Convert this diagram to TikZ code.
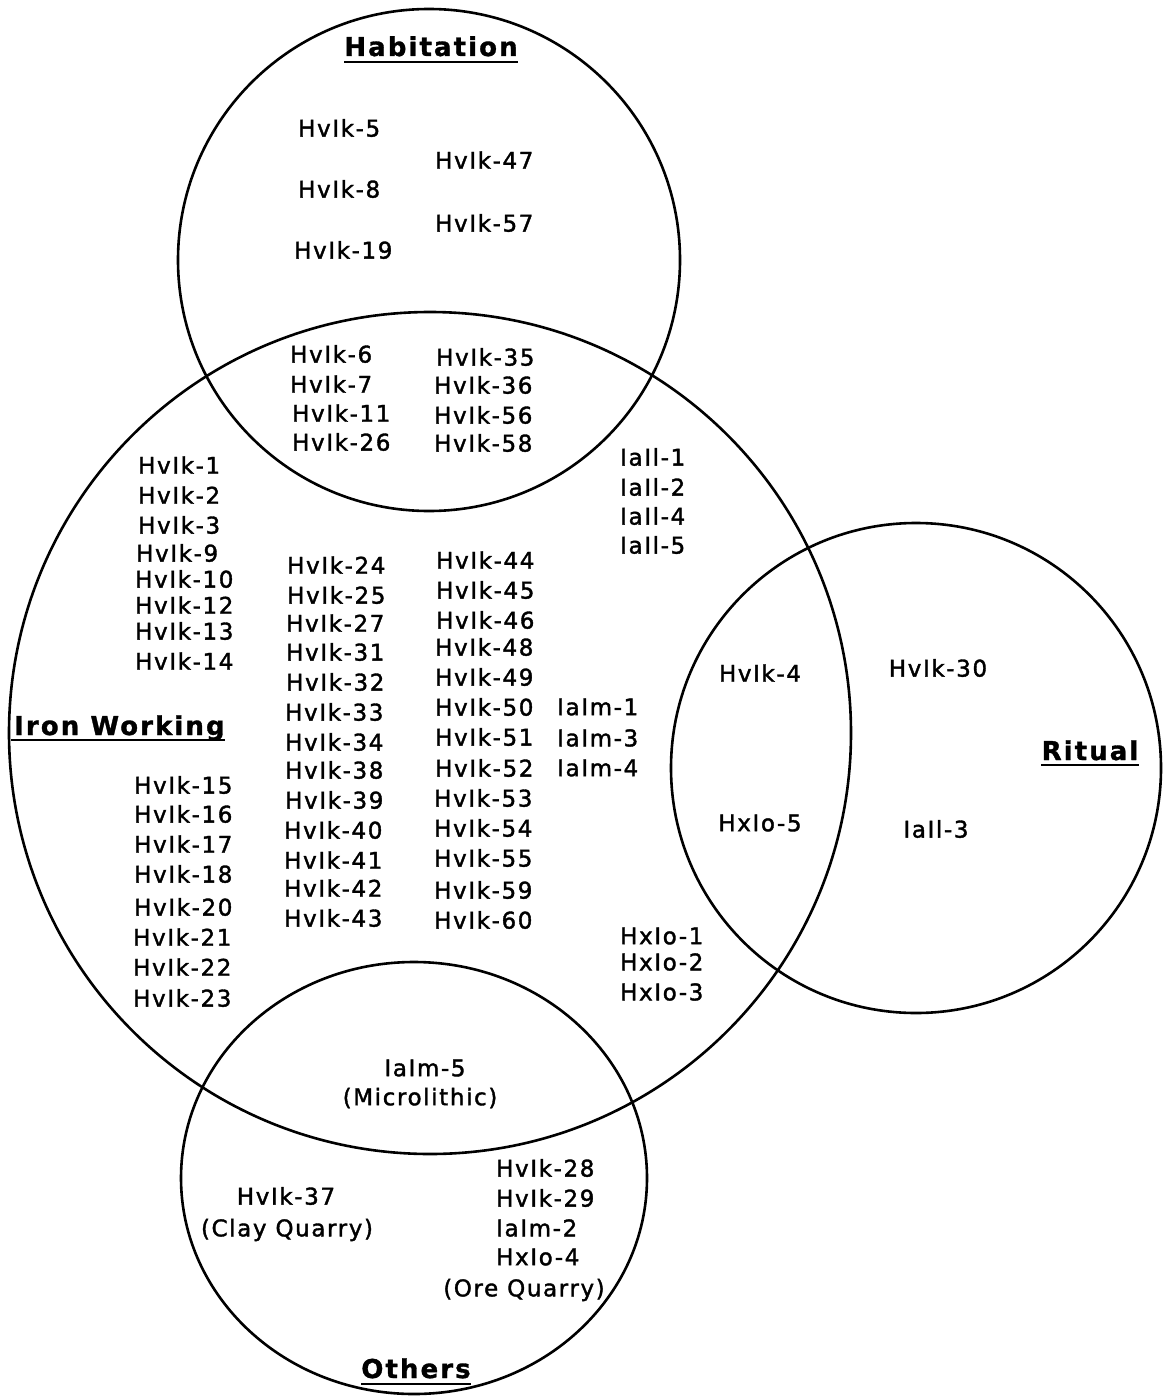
\documentclass[tikz,border=0pt]{standalone}
\usetikzlibrary{shapes.geometric}
\usepackage{fontspec}
\setmainfont{DejaVu Sans}
\newfontfamily\lblf[LetterSpace=7,FakeBold=1.6]{DejaVu Sans}
\newfontfamily\ttlf[LetterSpace=8,BoldFeatures={FakeBold=1.2}]{DejaVu Sans}
\begin{document}
\begin{tikzpicture}[x=1pt,y=-1pt,
  set/.style={ellipse,draw=black,line width=2.6pt,inner sep=0pt,outer sep=0pt},
  lbl/.style={font=\lblf\fontsize{23}{26}\selectfont,inner sep=0pt,anchor=west},
  clbl/.style={font=\lblf\fontsize{23}{26}\selectfont,inner sep=0pt,anchor=center},
  ttl/.style={font=\ttlf\bfseries\fontsize{26}{30}\selectfont,inner sep=0pt,anchor=base},
  ul/.style={line width=2.8pt}]
\useasboundingbox (0,0) rectangle (1170,1397);
\fill[white] (0,0) rectangle (1170,1397);

% sets
\node[set,minimum width=502pt,minimum height=502pt] (hab) at (429,260) {};
\node[set,minimum width=842pt,minimum height=842pt] (iron) at (430,733) {};
\node[set,minimum width=490pt,minimum height=490pt] (rit) at (916,768) {};
\node[set,minimum width=466pt,minimum height=432pt] (oth) at (414,1178) {};

% titles
\node[ttl] (thab) at (431,56) {Habitation};
\draw[ul] ([yshift=-6pt]thab.base west) -- ([yshift=-6pt]thab.base east);
\node[ttl,anchor=base west] (tiron) at (14,735) {Iron Working};
\draw[ul] ([yshift=-5pt,xshift=-3pt]tiron.base west) -- ([yshift=-5pt]tiron.base east);
\node[ttl] (trit) at (1090,760) {Ritual};
\draw[ul] ([yshift=-5pt]trit.base west) -- ([yshift=-5pt]trit.base east);
\node[ttl] (toth) at (416,1378) {Others};
\draw[ul] ([yshift=-6pt]toth.base west) -- ([yshift=-6pt]toth.base east);

% Habitation only
\node[lbl] (h5)  at (298,128) {HvIk-5};
\node[lbl] (h8)  at (298,189) {HvIk-8};
\node[lbl] (h19) at (294,250) {HvIk-19};
\node[lbl] (h47) at (435,160) {HvIk-47};
\node[lbl] (h57) at (435,223) {HvIk-57};

% Habitation + Iron Working
\node[lbl] (h6)  at (290,354) {HvIk-6};
\node[lbl] (h7)  at (290,384) {HvIk-7};
\node[lbl] (h11) at (292,413) {HvIk-11};
\node[lbl] (h26) at (292,442) {HvIk-26};
\node[lbl] (h35) at (436,357) {HvIk-35};
\node[lbl] (h36) at (434,385) {HvIk-36};
\node[lbl] (h56) at (434,415) {HvIk-56};
\node[lbl] (h58) at (434,443) {HvIk-58};

% Iron Working, left column
\node[lbl] (h1)  at (138,465) {HvIk-1};
\node[lbl] (h2)  at (138,495) {HvIk-2};
\node[lbl] (h3)  at (138,525) {HvIk-3};
\node[lbl] (h9)  at (136,553) {HvIk-9};
\node[lbl] (h10) at (135,579) {HvIk-10};
\node[lbl] (h12) at (135,605) {HvIk-12};
\node[lbl] (h13) at (135,631) {HvIk-13};
\node[lbl] (h14) at (135,661) {HvIk-14};
\node[lbl] (h15) at (134,785) {HvIk-15};
\node[lbl] (h16) at (134,814) {HvIk-16};
\node[lbl] (h17) at (134,844) {HvIk-17};
\node[lbl] (h18) at (134,874) {HvIk-18};
\node[lbl] (h20) at (134,907) {HvIk-20};
\node[lbl] (h21) at (133,937) {HvIk-21};
\node[lbl] (h22) at (133,967) {HvIk-22};
\node[lbl] (h23) at (133,998) {HvIk-23};

% Iron Working, middle-left column
\node[lbl] (h24) at (287,565) {HvIk-24};
\node[lbl] (h25) at (287,595) {HvIk-25};
\node[lbl] (h27) at (286,623) {HvIk-27};
\node[lbl] (h31) at (286,652) {HvIk-31};
\node[lbl] (h32) at (286,682) {HvIk-32};
\node[lbl] (h33) at (285,712) {HvIk-33};
\node[lbl] (h34) at (285,742) {HvIk-34};
\node[lbl] (h38) at (285,770) {HvIk-38};
\node[lbl] (h39) at (285,800) {HvIk-39};
\node[lbl] (h40) at (284,830) {HvIk-40};
\node[lbl] (h41) at (284,860) {HvIk-41};
\node[lbl] (h42) at (284,888) {HvIk-42};
\node[lbl] (h43) at (284,918) {HvIk-43};

% Iron Working, middle-right column
\node[lbl] (h44) at (436,560) {HvIk-44};
\node[lbl] (h45) at (436,590) {HvIk-45};
\node[lbl] (h46) at (436,620) {HvIk-46};
\node[lbl] (h48) at (435,647) {HvIk-48};
\node[lbl] (h49) at (435,677) {HvIk-49};
\node[lbl] (h50) at (435,707) {HvIk-50};
\node[lbl] (h51) at (435,737) {HvIk-51};
\node[lbl] (h52) at (435,768) {HvIk-52};
\node[lbl] (h53) at (434,798) {HvIk-53};
\node[lbl] (h54) at (434,828) {HvIk-54};
\node[lbl] (h55) at (434,858) {HvIk-55};
\node[lbl] (h59) at (434,890) {HvIk-59};
\node[lbl] (h60) at (434,920) {HvIk-60};

% Iron Working, right side
\node[lbl] (m1) at (557,707) {IaIm-1};
\node[lbl] (m3) at (557,738) {IaIm-3};
\node[lbl] (m4) at (557,768) {IaIm-4};
\node[lbl] (l1) at (620,457) {IaIl-1};
\node[lbl] (l2) at (620,487) {IaIl-2};
\node[lbl] (l4) at (620,516) {IaIl-4};
\node[lbl] (l5) at (620,545) {IaIl-5};
\node[lbl] (x1) at (620,936) {HxIo-1};
\node[lbl] (x2) at (620,962) {HxIo-2};
\node[lbl] (x3) at (620,992) {HxIo-3};

% Iron Working + Ritual
\node[clbl] (h4) at (760,673) {HvIk-4};
\node[clbl] (x5) at (760,823) {HxIo-5};

% Ritual only
\node[clbl] (h30) at (938,668) {HvIk-30};
\node[clbl] (l3)  at (936,829) {IaIl-3};

% Iron Working + Others
\node[clbl] (m5) at (425,1068) {IaIm-5};
\node[clbl] (micro) at (420,1098) {(Microlithic)};

% Others only
\node[clbl] (h37) at (286,1196) {HvIk-37};
\node[clbl] (clay) at (287,1230) {(Clay Quarry)};
\node[lbl] (h28) at (496,1168) {HvIk-28};
\node[lbl] (h29) at (496,1198) {HvIk-29};
\node[lbl] (m2)  at (496,1228) {IaIm-2};
\node[lbl] (x4)  at (496,1257) {HxIo-4};
\node[clbl] (ore) at (524,1290) {(Ore Quarry)};
\end{tikzpicture}
\end{document}
